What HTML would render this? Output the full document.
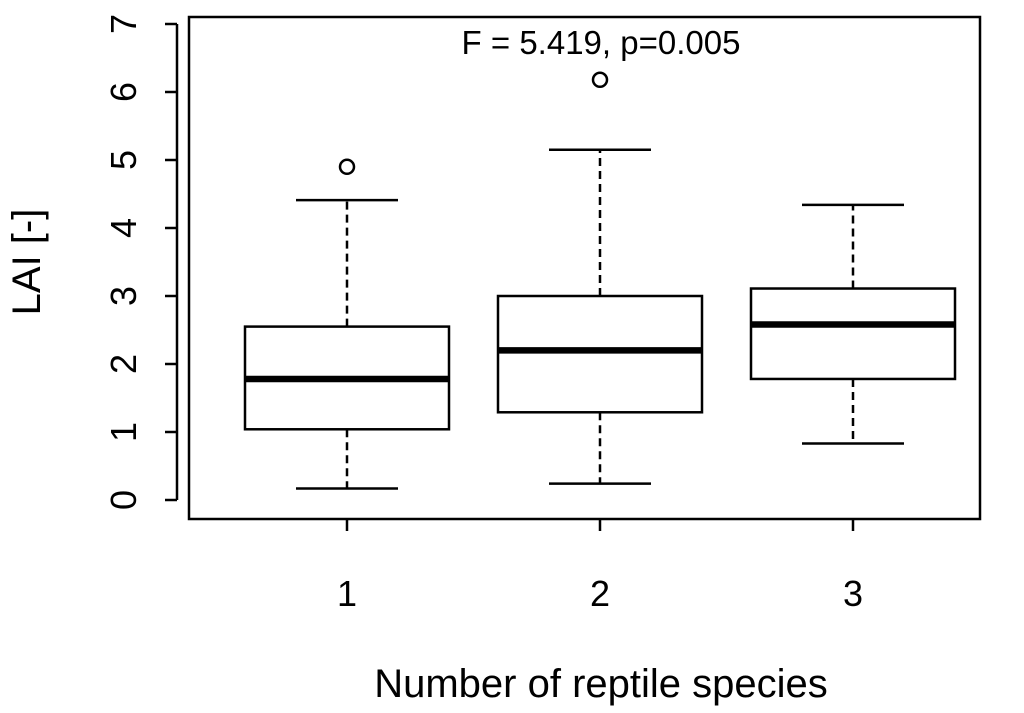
<!DOCTYPE html>
<html><head><meta charset="utf-8"><style>
html,body{margin:0;padding:0;background:#fff;}
svg{display:block;font-family:"Liberation Sans",Arial,sans-serif;}
</style></head><body>
<svg id="chart" width="1024" height="713" viewBox="0 0 1024 713"></svg>
<script>
const categories = ["1","2","3"];
const whiskerLow = [0.17, 0.24, 0.83];
const q1 = [1.04, 1.29, 1.78];
const median = [1.78, 2.2, 2.58];
const q3 = [2.55, 3.0, 3.11];
const whiskerHigh = [4.41, 5.15, 4.34];
const outliers = [[4.9], [6.18], []];
const yTicks = [0,1,2,3,4,5,6,7];

const NS = "http://www.w3.org/2000/svg";
const svg = document.getElementById("chart");
const plotL = 189, plotR = 980, plotT = 17, plotB = 519;
function y(v){ return 500 - 68 * v; }
function x(i){ return 347 + i * 253; }
const halfBox = 102, halfCap = 51;

function mk(tag, attrs, parent){
  const e = document.createElementNS(NS, tag);
  for (const k in attrs) e.setAttribute(k, attrs[k]);
  (parent || svg).appendChild(e);
  return e;
}

const frame = mk("rect", {x:plotL, y:plotT, width:plotR-plotL, height:plotB-plotT, fill:"none", stroke:"#000", "stroke-width":2.5});



const yAxis = mk("g", {});


mk("line", {x1:177, x2:177, y1:y(yTicks[0]), y2:y(yTicks[yTicks.length-1]), stroke:"#000", "stroke-width":2.5}, yAxis);
yTicks.forEach(t => {
  mk("line", {x1:165, x2:177, y1:y(t), y2:y(t), stroke:"#000", "stroke-width":2.5}, yAxis);
  const tx = mk("text", {x:0, y:0, transform:`translate(136,${y(t)}) rotate(-90)`, "text-anchor":"middle", "font-size":36, fill:"#000"}, yAxis);
  tx.textContent = t;
  
  
});

const xAxis = mk("g", {});


categories.forEach((c, i) => {
  mk("line", {x1:x(i), x2:x(i), y1:519, y2:531, stroke:"#000", "stroke-width":2.5}, xAxis);
  const tx = mk("text", {x:x(i), y:606, "text-anchor":"middle", "font-size":36, fill:"#000"}, xAxis);
  tx.textContent = c;
  
  
});

categories.forEach((c, i) => {
  const g = mk("g", {});
  
  
  const cx = x(i);
  mk("line", {x1:cx, x2:cx, y1:y(q3[i]), y2:y(whiskerHigh[i]), stroke:"#000", "stroke-width":2.5, "stroke-dasharray":"8,5"}, g);
  mk("line", {x1:cx, x2:cx, y1:y(q1[i]), y2:y(whiskerLow[i]), stroke:"#000", "stroke-width":2.5, "stroke-dasharray":"8,5"}, g);
  mk("line", {x1:cx-halfCap, x2:cx+halfCap, y1:y(whiskerHigh[i]), y2:y(whiskerHigh[i]), stroke:"#000", "stroke-width":2.5}, g);
  mk("line", {x1:cx-halfCap, x2:cx+halfCap, y1:y(whiskerLow[i]), y2:y(whiskerLow[i]), stroke:"#000", "stroke-width":2.5}, g);
  mk("rect", {x:cx-halfBox, y:y(q3[i]), width:2*halfBox, height:y(q1[i])-y(q3[i]), fill:"#fff", stroke:"#000", "stroke-width":2.5}, g);
  mk("line", {x1:cx-halfBox, x2:cx+halfBox, y1:y(median[i]), y2:y(median[i]), stroke:"#000", "stroke-width":6.5}, g);
  outliers[i].forEach(o => {
    const p = mk("circle", {cx:cx, cy:y(o), r:7, fill:"none", stroke:"#000", "stroke-width":2.5}, g);
    
    
  });
});
</script>
<div style="position:absolute;left:0;top:0;width:1024px;height:713px;pointer-events:none">
<svg width="1024" height="713" style="position:absolute;left:0;top:0">
<text x="601" y="54" text-anchor="middle" font-size="33" font-family="Liberation Sans, Arial, sans-serif">F = 5.419, p=0.005</text>
<text x="601" y="697" text-anchor="middle" font-size="40" font-family="Liberation Sans, Arial, sans-serif">Number of reptile species</text>
<text transform="translate(40,262) rotate(-90)" text-anchor="middle" font-size="40" font-family="Liberation Sans, Arial, sans-serif">LAI [-]</text>
</svg></div>
</body></html>
